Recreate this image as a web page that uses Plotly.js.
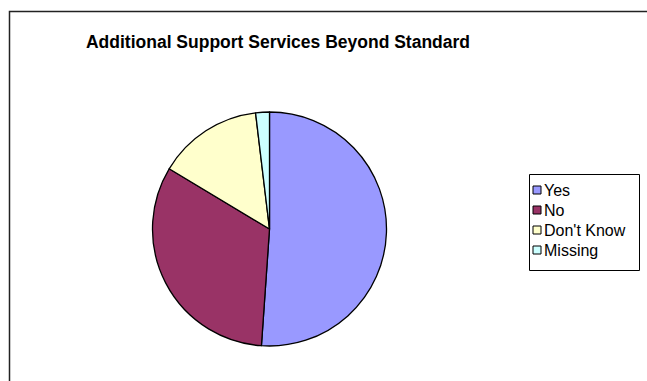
<!DOCTYPE html>
<html>
<head>
<meta charset="utf-8">
<script src="https://cdn.plot.ly/plotly-3.0.1.min.js"></script>
<style>html,body{margin:0;padding:0;background:#fff;}#chart{width:647px;height:381px;}</style>
</head>
<body>
<div id="chart"></div>
<script>
var categories = ["Yes", "No", "Don't Know", "Missing"];
var values = [51.1, 32.5, 14.5, 1.9];
var colors = ["#9999FF", "#993366", "#FFFFCC", "#CCFFFF"];
var chartTitle = "Additional Support Services Beyond Standard";

var W = 647, H = 381;
function px(x) { return x / W; }
function py(y) { return 1 - y / H; }

var cx = 269.5, cy = 229, r = 117;

var trace = {
  type: "pie",
  labels: categories,
  values: values,
  sort: false,
  direction: "clockwise",
  rotation: 0,
  textinfo: "none",
  hoverinfo: "label+percent",
  marker: { colors: colors, line: { color: "#000000", width: 1.3 } },
  domain: { x: [px(cx - r), px(cx + r)], y: [py(cy + r), py(cy - r)] },
  showlegend: false
};

var shapes = [
  { type: "rect", xref: "paper", yref: "paper", x0: px(9.5), x1: px(700), y0: py(450), y1: py(11.5),
    line: { color: "#222222", width: 1.5 }, fillcolor: "rgba(0,0,0,0)", layer: "below" },
  { type: "rect", xref: "paper", yref: "paper", x0: px(529.5), x1: px(639.5), y0: py(270.5), y1: py(174.5),
    line: { color: "#000000", width: 1 }, fillcolor: "rgba(0,0,0,0)" }
];
var annotations = [];
var legTop = 190, legStep = 20;
for (var i = 0; i < categories.length; i++) {
  var yc = legTop + i * legStep;
  shapes.push({ type: "rect", xref: "paper", yref: "paper",
    x0: px(533), x1: px(541), y0: py(yc + 4), y1: py(yc - 4),
    line: { color: "#000000", width: 1 }, fillcolor: colors[i] });
  annotations.push({ xref: "paper", yref: "paper", x: px(541.5), y: py(yc), xanchor: "left", yanchor: "middle",
    showarrow: false, text: categories[i],
    font: { family: "Liberation Sans, Arial, sans-serif", size: 16, color: "#000000" } });
}

var layout = {
  width: W, height: H,
  margin: { l: 0, r: 0, t: 0, b: 0 },
  paper_bgcolor: "#ffffff",
  plot_bgcolor: "#ffffff",
  title: { text: "<b>" + chartTitle + "</b>", x: px(278), xanchor: "center", y: py(42), yanchor: "middle",
    font: { family: "Liberation Sans, Arial, sans-serif", size: 17.5, color: "#000000" } },
  shapes: shapes,
  annotations: annotations,
  showlegend: false
};

Plotly.newPlot("chart", [trace], layout, { displayModeBar: false, staticPlot: true });
</script>
</body>
</html>
